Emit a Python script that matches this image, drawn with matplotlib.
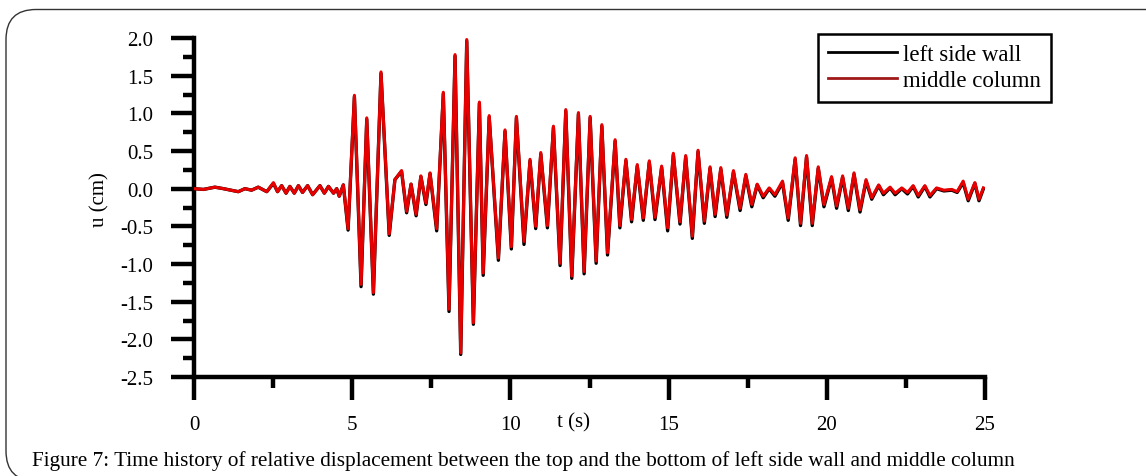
import matplotlib
matplotlib.use('Agg')
import matplotlib.pyplot as plt
from matplotlib.lines import Line2D
from matplotlib.patches import FancyBboxPatch
from matplotlib.transforms import IdentityTransform
from matplotlib.ticker import MultipleLocator

t = [0.0, 0.3, 0.66, 0.93, 1.4, 1.61, 1.82, 2.03, 2.3, 2.51, 2.64, 2.77, 2.91, 3.03, 3.17,
     3.3, 3.43, 3.59, 3.75, 3.98, 4.12, 4.25, 4.41, 4.51, 4.59, 4.72, 4.87, 5.07, 5.28, 5.46,
     5.67, 5.91, 6.17, 6.35, 6.56, 6.72, 6.86, 7.02, 7.17, 7.33, 7.46, 7.67, 7.88, 8.06, 8.25,
     8.43, 8.62, 8.83, 9.02, 9.14, 9.33, 9.62, 9.83, 10.03, 10.19, 10.43, 10.62, 10.8, 10.96, 11.17,
     11.36, 11.57, 11.75, 11.94, 12.15, 12.33, 12.52, 12.71, 12.89, 13.07, 13.31, 13.46, 13.65, 13.83, 14.01,
     14.2, 14.39, 14.57, 14.78, 14.97, 15.15, 15.36, 15.54, 15.75, 15.93, 16.13, 16.31, 16.47, 16.65, 16.84,
     17.05, 17.26, 17.44, 17.63, 17.8, 17.99, 18.18, 18.36, 18.6, 18.78, 19.0, 19.17, 19.36, 19.54, 19.73,
     19.91, 20.15, 20.31, 20.5, 20.68, 20.86, 21.05, 21.24, 21.42, 21.64, 21.79, 22.0, 22.16, 22.37, 22.55,
     22.73, 22.89, 23.1, 23.26, 23.47, 23.7, 23.95, 24.12, 24.31, 24.47, 24.68, 24.81, 24.95]

u_columna = [0.0, -0.01, 0.02, 0.0, -0.04, 0.0, -0.02, 0.02, -0.04, 0.08, -0.04, 0.04, -0.06, 0.03, -0.06,
             0.04, -0.05, 0.04, -0.08, 0.04, -0.06, 0.03, -0.06, 0.0, -0.1, 0.05, -0.53, 1.24, -1.27, 0.94,
             -1.38, 1.55, -0.6, 0.12, 0.24, -0.3, 0.06, -0.34, 0.17, -0.19, 0.21, -0.53, 1.28, -1.6, 1.78,
             -2.18, 1.98, -1.78, 1.15, -1.12, 0.97, -0.92, 0.78, -0.77, 0.96, -0.7, 0.39, -0.5, 0.48, -0.49,
             0.83, -0.99, 1.05, -1.16, 1.01, -1.1, 0.96, -0.96, 0.85, -0.85, 0.65, -0.49, 0.39, -0.41, 0.32,
             -0.39, 0.37, -0.38, 0.3, -0.52, 0.47, -0.44, 0.44, -0.63, 0.51, -0.43, 0.29, -0.34, 0.28, -0.35,
             0.24, -0.26, 0.19, -0.21, 0.06, -0.1, 0.01, -0.08, 0.1, -0.39, 0.41, -0.46, 0.44, -0.46, 0.29,
             -0.21, 0.16, -0.23, 0.17, -0.26, 0.21, -0.28, 0.12, -0.12, 0.05, -0.06, 0.02, -0.06, 0.01, -0.05,
             0.04, -0.09, 0.04, -0.09, 0.01, -0.02, -0.01, -0.04, 0.1, -0.14, 0.08, -0.14, 0.01]

u_muro = [0.0, -0.01, 0.02, 0.0, -0.04, 0.0, -0.02, 0.02, -0.04, 0.07, -0.04, 0.04, -0.06, 0.03, -0.06,
          0.04, -0.05, 0.04, -0.08, 0.04, -0.06, 0.03, -0.06, 0.0, -0.1, 0.05, -0.55, 1.22, -1.3, 0.92,
          -1.4, 1.53, -0.62, 0.12, 0.23, -0.32, 0.06, -0.36, 0.16, -0.21, 0.2, -0.56, 1.26, -1.63, 1.76,
          -2.2, 1.96, -1.8, 1.13, -1.15, 0.95, -0.95, 0.76, -0.8, 0.94, -0.74, 0.37, -0.53, 0.46, -0.52,
          0.81, -1.02, 1.03, -1.19, 0.99, -1.13, 0.94, -0.99, 0.83, -0.88, 0.63, -0.52, 0.37, -0.44, 0.3,
          -0.42, 0.35, -0.41, 0.28, -0.56, 0.45, -0.47, 0.42, -0.66, 0.49, -0.46, 0.27, -0.37, 0.26, -0.38,
          0.22, -0.29, 0.17, -0.24, 0.05, -0.12, 0.0, -0.1, 0.08, -0.42, 0.39, -0.49, 0.42, -0.49, 0.27,
          -0.24, 0.14, -0.26, 0.15, -0.29, 0.19, -0.31, 0.1, -0.14, 0.04, -0.08, 0.01, -0.08, 0.0, -0.07,
          0.03, -0.11, 0.03, -0.11, 0.0, -0.03, -0.02, -0.05, 0.08, -0.16, 0.07, -0.16, 0.0]

serif = 'Liberation Serif'

fig = plt.figure(figsize=(11.46, 4.77), dpi=100)
ax = fig.add_axes([194 / 1146, 1 - 378 / 477, (985 - 194) / 1146, (378 - 39) / 477])

ax.plot(t, u_muro, color='black', lw=2.4, zorder=2)
ax.plot(t, u_columna, color='#e60000', lw=2.2, zorder=3)

ax.set_xlim(0, 25)
ax.set_ylim(-2.5, 2.0)
ax.xaxis.set_major_locator(MultipleLocator(5))
ax.xaxis.set_minor_locator(MultipleLocator(2.5))
ax.yaxis.set_major_locator(MultipleLocator(0.5))
ax.yaxis.set_minor_locator(MultipleLocator(0.25))
ax.set_yticklabels([f'{v:.1f}' for v in ax.get_yticks()])

for s in ['top', 'right']:
    ax.spines[s].set_visible(False)
for s in ['left', 'bottom']:
    ax.spines[s].set_linewidth(3.2)
ax.spines['left'].set_capstyle('projecting')
ax.tick_params(which='major', direction='out', length=16.5, width=3.2, labelsize=15, color='black')
ax.tick_params(which='minor', direction='out', length=8, width=3.2)
ax.tick_params(axis='x', which='major', pad=11)
ax.tick_params(axis='y', which='major', pad=13)
for lbl in ax.get_xticklabels() + ax.get_yticklabels():
    lbl.set_fontfamily(serif)

fig.text(100 / 1146, 1 - 200 / 477, 'u (cm)', fontsize=15, family=serif,
         rotation=90, ha='center', va='center')
ax.text(12.0, -3.1, 't (s)', fontsize=15, family=serif, ha='center', va='center')

# Leyenda
handles = [Line2D([], [], color='black', lw=2), Line2D([], [], color='#a01818', lw=2)]
leg = ax.legend(handles, ['left side wall', 'middle column'], loc='upper left',
                bbox_to_anchor=(818 / 1146, 1 - 35 / 477), bbox_transform=fig.transFigure,
                borderaxespad=0, fancybox=False, edgecolor='black', framealpha=1,
                prop={'family': serif, 'size': 16.5}, handlelength=3.0, handletextpad=0.25,
                labelspacing=0.22, borderpad=0.45)
leg.get_frame().set_linewidth(1.8)

fig.text(32 / 1146, 1 - 461 / 477,
         'Figure 7: Time history of relative displacement between the top and the bottom of left side wall and middle column',
         fontsize=15.3, family=serif, va='center', ha='left')

marco = FancyBboxPatch((6, -5), 1200, 471.5, boxstyle='round,pad=0,rounding_size=30',
                       transform=IdentityTransform(), fill=False, edgecolor='#333333', lw=1)
fig.patches.append(marco)

fig.savefig('out.png', dpi=100)
